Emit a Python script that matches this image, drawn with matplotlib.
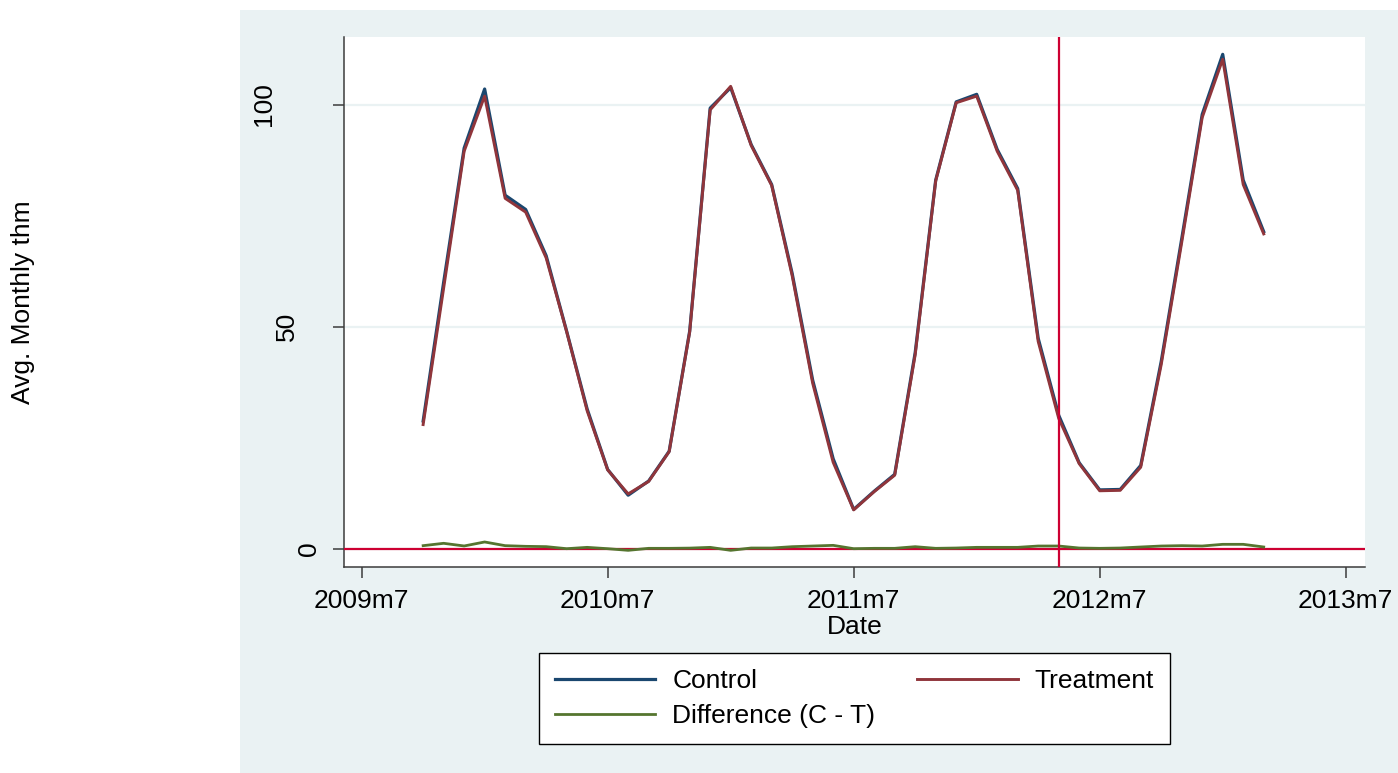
import numpy as np
import matplotlib.pyplot as plt
from matplotlib.patches import Rectangle
from matplotlib.transforms import ScaledTranslation

plt.rcParams['font.family'] = ['Liberation Sans', 'DejaVu Sans']

# Stata %tm values (months since 1960m1): 597 = 2009m10 ... 638 = 2013m3
tm = np.arange(597, 639)

control = [28.8, 60.0, 90.2, 103.5, 79.6, 76.4, 66.0, 49.0, 31.5, 17.9,
           12.1, 15.3, 22.0, 49.0, 99.2, 103.8, 91.0, 82.0, 62.0, 38.0,
           20.3, 8.9, 13.0, 16.8, 44.2, 83.0, 100.6, 102.3, 89.9, 81.1,
           47.4, 30.1, 19.4, 13.3, 13.4, 18.8, 42.2, 69.8, 97.8, 111.3,
           83.0, 71.4]
treatment = [28.0, 58.7, 89.5, 101.9, 78.9, 75.8, 65.5, 48.9, 31.1, 17.8,
             12.4, 15.2, 21.9, 48.8, 98.8, 104.1, 90.8, 81.8, 61.5, 37.3,
             19.5, 8.8, 12.9, 16.6, 43.7, 82.8, 100.4, 101.9, 89.5, 80.7,
             46.7, 29.4, 19.2, 13.1, 13.2, 18.4, 41.5, 69.0, 97.1, 110.2,
             82.0, 70.9]
difference = [0.75, 1.28, 0.68, 1.58, 0.75, 0.6, 0.53, 0.07, 0.37, 0.07,
              -0.3, 0.15, 0.15, 0.2, 0.37, -0.3, 0.22, 0.22, 0.52, 0.67,
              0.82, 0.07, 0.15, 0.15, 0.52, 0.15, 0.22, 0.37, 0.37, 0.37,
              0.67, 0.67, 0.22, 0.15, 0.22, 0.45, 0.67, 0.75, 0.67, 1.05,
              1.05, 0.45]

xtick_pos = [594, 606, 618, 630, 642]
xtick_lab = ['2009m7', '2010m7', '2011m7', '2012m7', '2013m7']
ytick_pos = [0, 50, 100]
event_tm = 628  # 2012m5

navy = '#1A476F'
maroon = '#90353B'
green = '#55752F'
red = '#CD0032'
bg = '#EAF2F3'
W, H = 1398, 773

fig = plt.figure(figsize=(W / 100, H / 100), dpi=100)
fig.patch.set_facecolor('white')
fig.add_artist(Rectangle((240 / W, 0), 1 - 240 / W, (H - 10) / H,
                         transform=fig.transFigure, facecolor=bg,
                         edgecolor='none', zorder=0))

ax = fig.add_axes([344 / W, (H - 567) / H, (1365 - 344) / W, (567 - 37) / H])
ax.set_facecolor('white')

for y in ytick_pos:
    ax.axhline(y, color=bg, lw=1.6, zorder=1)

ax.plot(tm, control, color=navy, lw=2.3, label='Control', zorder=3)
ax.plot(tm, treatment, color=maroon, lw=2.1, label='Treatment', zorder=4)
ax.plot(tm, difference, color=green, lw=2.0, label='Difference (C - T)', zorder=5)
ax.axhline(0, color=red, lw=1.6, zorder=4.5)
ax.axvline(event_tm, color=red, lw=1.6, zorder=6)

ax.set_xlim(593.14, 642.94)
ax.set_ylim(-4.05, 115.2)

for s in ['top', 'right']:
    ax.spines[s].set_visible(False)
for s in ['left', 'bottom']:
    ax.spines[s].set_color('#3C3C3C')
    ax.spines[s].set_linewidth(1.1)

ax.set_xticks(xtick_pos)
ax.set_xticklabels(xtick_lab, fontsize=19)
ax.set_yticks(ytick_pos)
ax.set_yticklabels([str(v) for v in ytick_pos], fontsize=19,
                   rotation=90, ha='center', va='center')
ax.tick_params(axis='both', direction='out', length=8, width=1.1,
               color='#3C3C3C')
ax.tick_params(axis='x', pad=8)
ax.tick_params(axis='y', pad=17)

# Stata staggers the vertical y labels; shift the longer ones left
shifts = {'50': -22, '100': -45}
for lab in ax.get_yticklabels():
    dx = shifts.get(lab.get_text(), 0)
    if dx:
        lab.set_transform(lab.get_transform() +
                          ScaledTranslation(dx / 100, 0, fig.dpi_scale_trans))

ax.set_xlabel('Date', fontsize=19, labelpad=1)
fig.text(23 / W, 1 - 302 / H, 'Avg. Monthly thm', rotation=90,
         ha='center', va='center', fontsize=19)

h, l = ax.get_legend_handles_labels()
order = [0, 2, 1]
leg = fig.legend([h[i] for i in order], [l[i] for i in order],
                 ncol=2, loc='center', bbox_to_anchor=(854.5 / W, 1 - 698.5 / H),
                 fontsize=19, frameon=True, fancybox=False, framealpha=1,
                 edgecolor='black', handlelength=3.8, handletextpad=0.65,
                 columnspacing=1.6, labelspacing=0.4, borderpad=0.6,
                 borderaxespad=0)
leg.get_frame().set_linewidth(1.0)

fig.savefig('out.png', dpi=100, facecolor='white')
